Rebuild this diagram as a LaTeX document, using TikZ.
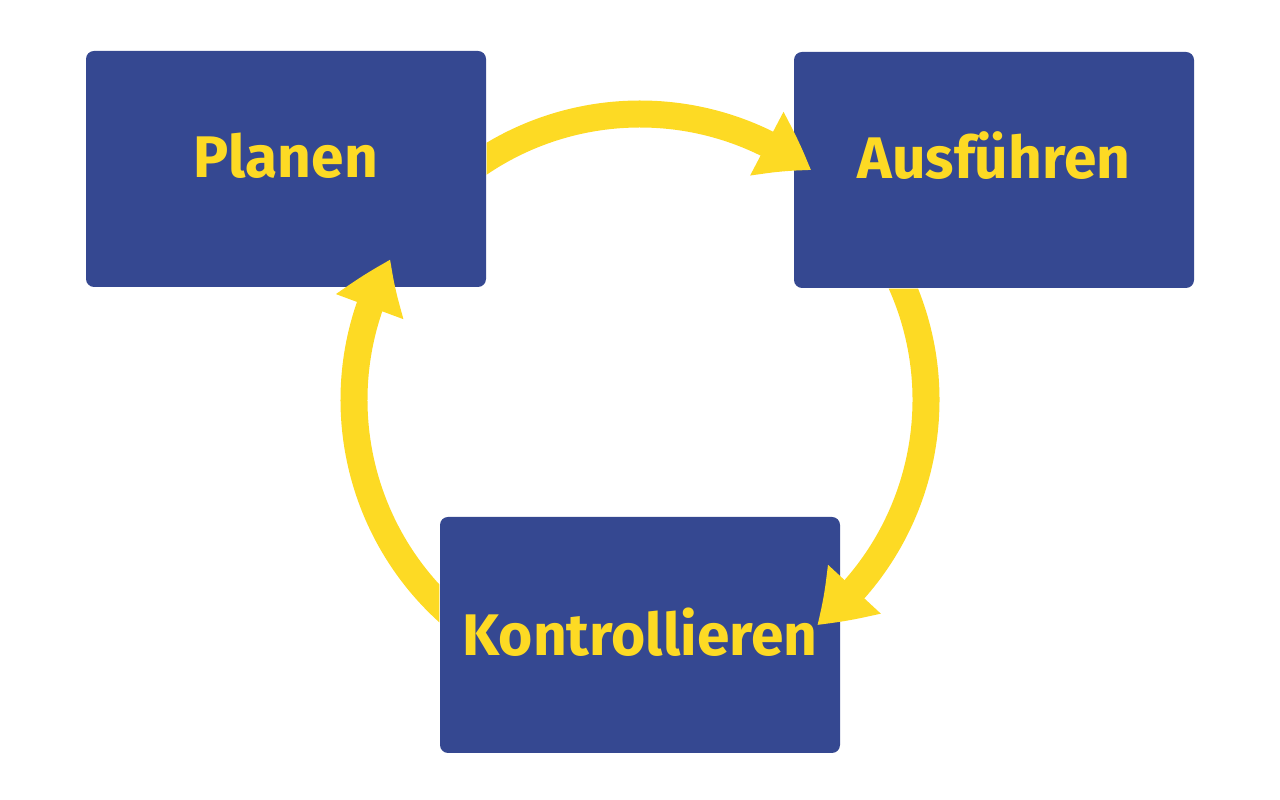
\documentclass[tikz,border=0pt]{standalone}
\usepackage{fontspec}
\setmainfont{Fira Sans}
\usetikzlibrary{arrows.meta, bending}
\definecolor{boxblue}{RGB}{53,72,145}
\definecolor{cycleyellow}{RGB}{253,218,36}
\tikzset{
    stage/.style={fill=boxblue, rounded corners=0.8mm, minimum width=40mm, minimum height=23.6mm,
        inner sep=0pt, text=cycleyellow, font=\fontsize{16.7}{19}\selectfont\bfseries,
        text height=4.1mm, text depth=0pt},
    raised/.style={text depth=2.3mm},
    cyclearrow/.style={draw=cycleyellow, line width=2.7mm, -{Triangle[length=5.2mm, width=6.8mm, bend]}},
}

\begin{document}
\begin{tikzpicture}[x=0.1mm, y=0.1mm]
    \useasboundingbox (0,0) rectangle (1280,800);
    % Stages:
    \node[stage, raised] (plan)  at (286,631) {Planen};
    \node[stage, raised] (exec)  at (994,630) {Ausführen};
    \node[stage]         (check) at (640,165) {Kontrollieren};
    \coordinate (mid) at (640,400);

    % Arcs of one circle, each starts below its source box:
    \begin{scope}
        \clip (0,0) rectangle (1280,800) (plan.south east) rectangle (plan.north west);
        \draw [cyclearrow] ([shift={(130:286)}]mid) arc [start angle=130, end angle=53.3, radius=286];
    \end{scope}
    \begin{scope}
        \clip (0,0) rectangle (1280,800) (exec.south east) rectangle (exec.north west);
        \draw [cyclearrow] ([shift={(30:286)}]mid) arc [start angle=30, end angle=-51.8, radius=286];
    \end{scope}
    \begin{scope}
        \clip (0,0) rectangle (1280,800) (check.south east) rectangle (check.north west);
        \draw [cyclearrow] ([shift={(235:286)}]mid) arc [start angle=235, end angle=150.6, radius=286];
    \end{scope}
\end{tikzpicture}
\end{document}
